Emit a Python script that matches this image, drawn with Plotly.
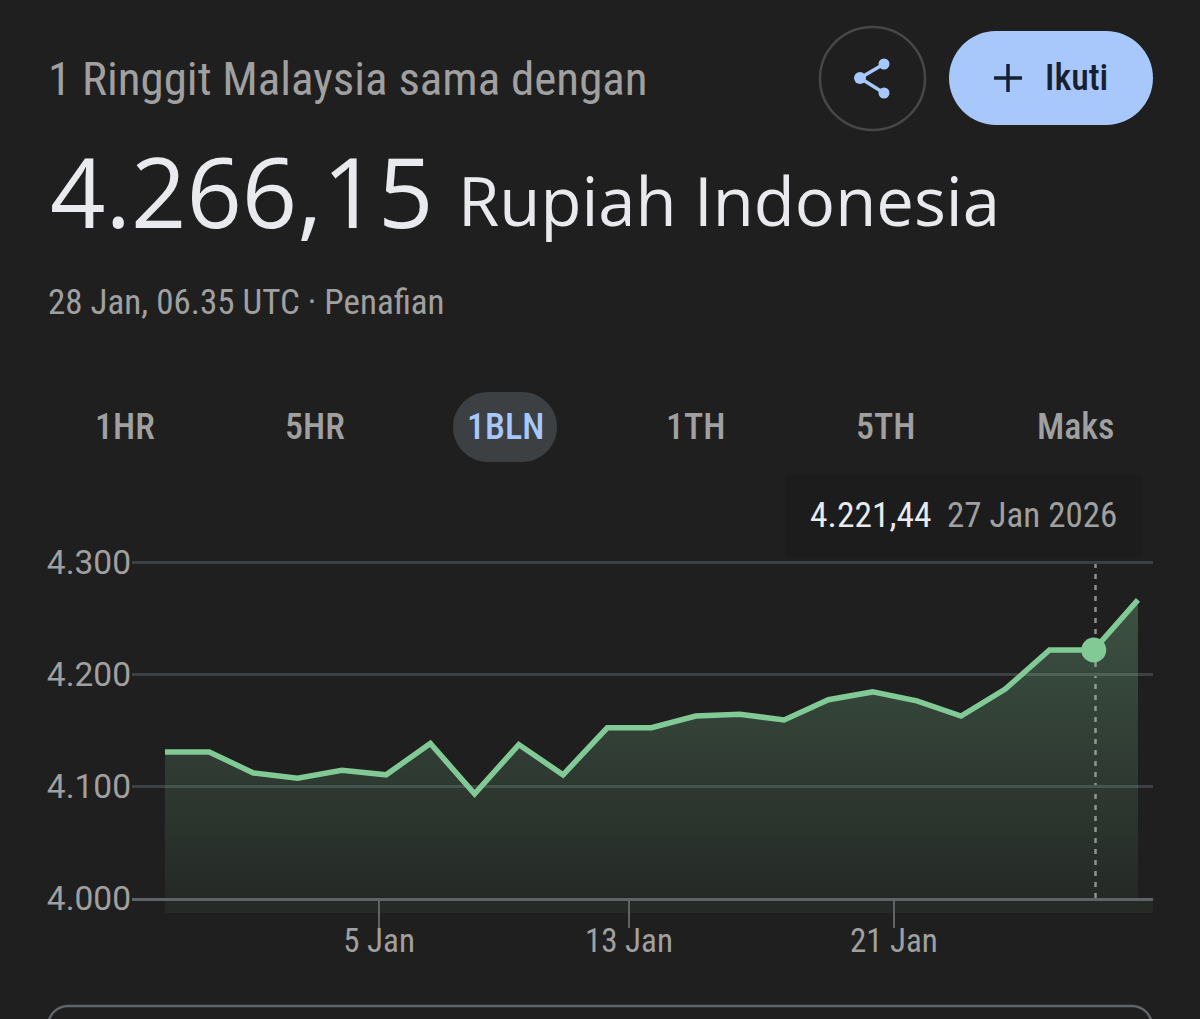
import plotly.graph_objects as go

# Daily rate, one value per trading day
day_index = list(range(23))
rate = [4130.4, 4130.4, 4111.6, 4107.0, 4114.0, 4110.0, 4138.0, 4093.0, 4137.0, 4110.0, 4152.0, 4152.0,
        4162.5, 4164.0, 4159.0, 4177.0, 4184.0, 4176.0, 4162.5, 4186.5, 4221.4, 4221.44, 4266.15]
baseline = [4000] * 23
hover_index = [21]
hover_rate = [4221.44]

y_ticks = [4000, 4100, 4200, 4300]
y_labels = ['4.000', '4.100', '4.200', '4.300']
x_ticks = [4.84, 10.49, 16.48]
x_labels = ['5 Jan', '13 Jan', '21 Jan']
tabs = ['1HR', '5HR', '1BLN', '1TH', '5TH', 'Maks']

W, H = 1200, 1019
BG = '#1f1f1f'
GREEN = '#81c995'
BLUE = '#a8c7fa'
GREY = '#a0a0a0'
NARROW = 'Roboto Condensed, Roboto'


def px(x):
    return x / W


def py(y):
    return 1 - y / H


def rounded(x0, y0, x1, y1, r):
    k = r * 0.45
    pts = [('M', x0 + r, y0), ('L', x1 - r, y0),
           ('C', x1 - k, y0, x1, y0 + k, x1, y0 + r), ('L', x1, y1 - r),
           ('C', x1, y1 - k, x1 - k, y1, x1 - r, y1), ('L', x0 + r, y1),
           ('C', x0 + k, y1, x0, y1 - k, x0, y1 - r), ('L', x0, y0 + r),
           ('C', x0, y0 + k, x0 + k, y0, x0 + r, y0)]
    out = ''
    for p in pts:
        out += p[0] + ' '
        vals = p[1:]
        out += ' '.join(f'{px(vals[i]):.5f},{py(vals[i + 1]):.5f}' for i in range(0, len(vals), 2)) + ' '
    return out + 'Z'


def box(path, fill='rgba(0,0,0,0)', line='rgba(0,0,0,0)', width=0, layer='above'):
    return dict(type='path', xref='paper', yref='paper', path=path, fillcolor=fill,
                line=dict(color=line, width=width), layer=layer)


def seg(x0, y0, x1, y1, color, width):
    return dict(type='line', xref='paper', yref='paper', x0=px(x0), y0=py(y0), x1=px(x1), y1=py(y1),
                line=dict(color=color, width=width))


def dot(cx, cy, r, color):
    return dict(type='circle', xref='paper', yref='paper', x0=px(cx - r), x1=px(cx + r),
                y0=py(cy - r), y1=py(cy + r), fillcolor=color, line=dict(width=0))


def label(text, x, y, size, color, family=NARROW, anchor='left', weight=400):
    return dict(text=text, x=px(x), y=py(y), xref='paper', yref='paper', showarrow=False,
                xanchor=anchor, yanchor='middle',
                font=dict(family=family, size=size, color=color, weight=weight))


fig = go.Figure()

# bottom of the area, the fill closes against it
fig.add_trace(go.Scatter(x=day_index, y=baseline, mode='lines', line=dict(width=0), hoverinfo='skip'))
fig.add_trace(go.Scatter(x=day_index, y=rate, mode='lines', fill='tonexty',
                         line=dict(color=GREEN, width=5.5, shape='linear'),
                         fillgradient=dict(type='vertical',
                                           colorscale=[[0, 'rgba(129,201,149,0.06)'],
                                                       [1, 'rgba(129,201,149,0.30)']])))
fig.add_trace(go.Scatter(x=hover_index, y=hover_rate, mode='markers', cliponaxis=False,
                         marker=dict(color=GREEN, size=25)))

shapes = [
    # band under the zero line
    dict(type='rect', xref='paper', yref='paper', x0=px(165), x1=px(1153), y0=py(898), y1=py(913),
         fillcolor='#262a27', line=dict(width=0), layer='below'),
    # share button
    dict(type='circle', xref='paper', yref='paper', x0=px(820), x1=px(925), y0=py(27), y1=py(130),
         line=dict(color='#474747', width=2.5)),
    seg(884, 64, 860, 78, BLUE, 3.5),
    seg(860, 78, 884, 93, BLUE, 3.5),
    dot(884, 64, 5.5, BLUE),
    dot(860, 78, 6, BLUE),
    dot(884, 93, 5.5, BLUE),
    # follow button
    box(rounded(949, 31, 1153, 125, 47), fill=BLUE),
    seg(994, 78, 1022, 78, '#17202f', 3.5),
    seg(1008, 64, 1008, 92, '#17202f', 3.5),
    # active tab
    box(rounded(453, 392, 557, 462, 35), fill='#3c4043'),
    # tooltip
    box(rounded(785, 475, 1142, 557, 4), fill='#1c1c1c'),
    # card below the chart
    box(rounded(48, 1006, 1152, 1060, 20), line='#5f6368', width=2.5),
    # hover line
    dict(type='line', xref='x', yref='y', x0=hover_index[0] + 0.04, x1=hover_index[0] + 0.04, y0=4000, y1=4300,
         line=dict(color='#8f8f8f', width=2.5, dash='5px,6px'), layer='below'),
]

annotations = [
    label('1 Ringgit Malaysia sama dengan', 46, 78, 47, GREY),
    label('4.266,15', 48, 190, 97, '#e8eaed', family='Open Sans'),
    label('Rupiah Indonesia', 456, 200, 67, '#e8eaed', family='Open Sans'),
    label('28 Jan, 06.35 UTC · Penafian', 46, 302, 35, GREY),
    label('Ikuti', 1043, 78, 36, '#17202f', weight=500),
    label('4.221,44', 808, 515, 35.5, '#e8eaed'),
    label('27 Jan 2026', 945, 515, 35, GREY),
]
tab_centers = [125, 315, 505, 695, 885, 1075]
for tab, cx in zip(tabs, tab_centers):
    color = BLUE if tab == '1BLN' else GREY
    annotations.append(label(tab, cx, 427, 36, color, anchor='center', weight=500))

fig.update_layout(
    width=W, height=H, margin=dict(l=0, r=0, t=0, b=0, autoexpand=False), showlegend=False,
    paper_bgcolor=BG, plot_bgcolor=BG, shapes=shapes, annotations=annotations,
    xaxis=dict(domain=[px(132), px(1153)], range=[-0.746, 22.34], showgrid=False, zeroline=False,
               showline=True, linecolor='#5f6368', linewidth=3, ticks='outside', ticklen=27, tickwidth=2,
               tickcolor='#5f6368', tickmode='array', tickvals=x_ticks, ticktext=x_labels,
               ticklabelstandoff=-16, tickfont=dict(family=NARROW, size=33, color=GREY)),
    yaxis=dict(domain=[py(898), py(550.8)], range=[4000, 4310], showgrid=True, gridcolor='#3c4043', gridwidth=2.5,
               zeroline=False, tickmode='array', tickvals=y_ticks, ticktext=y_labels, ticks='',
               tickfont=dict(family='Roboto', size=33.5, color=GREY)),
)

fig.write_html("out.html", config=dict(displayModeBar=False),
               post_script="document.body.style.margin='0';document.body.style.overflow='hidden';")
